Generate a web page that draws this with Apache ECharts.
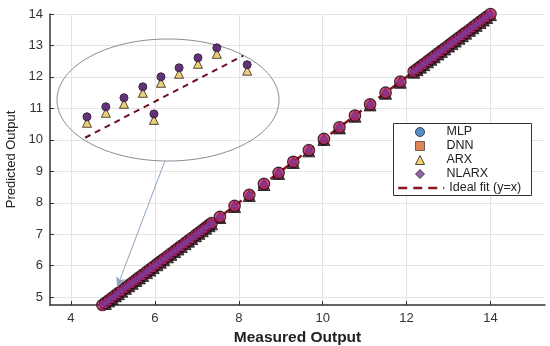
<!DOCTYPE html>
<html>
<head>
<meta charset="utf-8">
<script src="https://cdn.jsdelivr.net/npm/echarts@6/dist/echarts.min.js"></script>
<style>
html,body{margin:0;padding:0;background:#fff;}
#c{width:550px;height:346px;}
</style>
</head>
<body>
<div id="c"></div>
<script>
// ---- data ----
const measured = [
  4.75, 4.82, 4.90, 4.98, 5.06, 5.13, 5.21, 5.30, 5.38, 5.46, 5.55, 5.63, 5.71, 5.80, 5.88, 5.96, 6.05,
  6.13, 6.21, 6.30, 6.38, 6.47, 6.55, 6.63, 6.72, 6.80, 6.88, 6.97, 7.05, 7.13, 7.21, 7.29, 7.35,
  7.55, 7.90, 8.25, 8.60, 8.95, 9.30, 9.67, 10.03, 10.40, 10.77, 11.13, 11.50, 11.85,
  12.17, 12.25, 12.33, 12.41, 12.50, 12.58, 12.66, 12.75, 12.83, 12.91, 13.00, 13.08, 13.16,
  13.25, 13.33, 13.41, 13.50, 13.58, 13.66, 13.75, 13.83, 13.91, 14.00
];
const mlpPred = [
  4.75, 4.82, 4.90, 4.98, 5.06, 5.13, 5.21, 5.30, 5.38, 5.46, 5.55, 5.63, 5.71, 5.80, 5.88, 5.96, 6.05,
  6.13, 6.21, 6.30, 6.38, 6.47, 6.55, 6.63, 6.72, 6.80, 6.88, 6.97, 7.05, 7.13, 7.21, 7.29, 7.35,
  7.55, 7.90, 8.25, 8.60, 8.95, 9.30, 9.67, 10.03, 10.40, 10.77, 11.13, 11.50, 11.85,
  12.17, 12.25, 12.33, 12.41, 12.50, 12.58, 12.66, 12.75, 12.83, 12.91, 13.00, 13.08, 13.16,
  13.25, 13.33, 13.41, 13.50, 13.58, 13.66, 13.75, 13.83, 13.91, 14.00
];
const dnnPred = [
  4.75, 4.82, 4.90, 4.98, 5.06, 5.13, 5.21, 5.30, 5.38, 5.46, 5.55, 5.63, 5.71, 5.80, 5.88, 5.96, 6.05,
  6.13, 6.21, 6.30, 6.38, 6.47, 6.55, 6.63, 6.72, 6.80, 6.88, 6.97, 7.05, 7.13, 7.21, 7.29, 7.35,
  7.55, 7.90, 8.25, 8.60, 8.95, 9.30, 9.67, 10.03, 10.40, 10.77, 11.13, 11.50, 11.85,
  12.17, 12.25, 12.33, 12.41, 12.50, 12.58, 12.66, 12.75, 12.83, 12.91, 13.00, 13.08, 13.16,
  13.25, 13.33, 13.41, 13.50, 13.58, 13.66, 13.75, 13.83, 13.91, 14.00
];
const arxPred = [
  4.73, 4.80, 4.88, 4.96, 5.04, 5.11, 5.19, 5.28, 5.36, 5.44, 5.53, 5.61, 5.69, 5.78, 5.86, 5.94, 6.03,
  6.11, 6.19, 6.28, 6.36, 6.45, 6.53, 6.61, 6.70, 6.78, 6.86, 6.95, 7.03, 7.11, 7.19, 7.27, 7.33,
  7.53, 7.88, 8.23, 8.58, 8.93, 9.28, 9.65, 10.01, 10.38, 10.75, 11.11, 11.48, 11.83,
  12.15, 12.23, 12.31, 12.39, 12.48, 12.56, 12.64, 12.73, 12.81, 12.89, 12.98, 13.06, 13.14,
  13.23, 13.31, 13.39, 13.48, 13.56, 13.64, 13.73, 13.81, 13.89, 13.98
];
const nlarxPred = [
  4.75, 4.82, 4.90, 4.98, 5.06, 5.13, 5.21, 5.30, 5.38, 5.46, 5.55, 5.63, 5.71, 5.80, 5.88, 5.96, 6.05,
  6.13, 6.21, 6.30, 6.38, 6.47, 6.55, 6.63, 6.72, 6.80, 6.88, 6.97, 7.05, 7.13, 7.21, 7.29, 7.35,
  7.55, 7.90, 8.25, 8.60, 8.95, 9.30, 9.67, 10.03, 10.40, 10.77, 11.13, 11.50, 11.85,
  12.17, 12.25, 12.33, 12.41, 12.50, 12.58, 12.66, 12.75, 12.83, 12.91, 13.00, 13.08, 13.16,
  13.25, 13.33, 13.41, 13.50, 13.58, 13.66, 13.75, 13.83, 13.91, 14.00
];
const idealFit = [4.75, 14.0];

// zoomed inset (around measured ≈ 5)
const insetMeasured = [4.981, 5.032, 5.081, 5.132, 5.162, 5.181, 5.230, 5.281, 5.332, 5.414];
const insetNlarx    = [5.085, 5.137, 5.184, 5.241, 5.100, 5.293, 5.340, 5.392, 5.444, 5.356];
const insetArx      = [5.054, 5.106, 5.153, 5.210, 5.069, 5.262, 5.309, 5.361, 5.413, 5.325];
const insetIdeal    = [4.976, 5.403];

const markerNames = ['MLP', 'DNN', 'ARX', 'NLARX'];
const lineName = 'Ideal fit (y=x)';
const xTicks = [4, 6, 8, 10, 12, 14];
const yTicks = [5, 6, 7, 8, 9, 10, 11, 12, 13, 14];

// ---- chart ----
const FONT = '"Liberation Sans", Arial, sans-serif';
const pairs = (xs, ys) => xs.map((x, i) => [x, ys[i]]);
const legendText = {fontFamily: FONT, fontSize: 12.5, color: '#222', lineHeight: 14};

const chart = echarts.init(document.getElementById('c'), null, {renderer: 'canvas'});
const option = {
  animation: false,
  backgroundColor: '#ffffff',
  grid: [
    {left: 50, right: 5, top: 14, bottom: 41, containLabel: false, outerBoundsMode: 'none'},
    {left: 57, top: 39, width: 222, height: 122, containLabel: false, outerBoundsMode: 'none'}
  ],
  xAxis: [
    {
      type: 'value', gridIndex: 0, min: 3.5, max: 15.3, splitNumber: 5,
      name: 'Measured Output', nameLocation: 'middle', nameGap: 23,
      nameTextStyle: {fontFamily: FONT, fontSize: 15.5, fontWeight: 'bold', color: '#222'},
      axisLine: {show: true, onZero: false, lineStyle: {color: '#333', width: 1.5}},
      axisTick: {show: true, inside: true, length: 4, lineStyle: {color: '#333'}},
      axisLabel: {
        fontFamily: FONT, fontSize: 13, color: '#333', margin: 7,
        showMinLabel: false, showMaxLabel: false,
        formatter: v => xTicks.indexOf(v) >= 0 ? String(v) : ''
      },
      splitLine: {show: true, showMinLine: false, showMaxLine: false, lineStyle: {color: '#e3e3e3', width: 1}}
    },
    {type: 'value', gridIndex: 1, min: 4.9, max: 5.5, show: false}
  ],
  yAxis: [
    {
      type: 'value', gridIndex: 0, min: 4.75, max: 14, splitNumber: 10,
      name: 'Predicted Output', nameLocation: 'middle', nameGap: 32,
      nameTextStyle: {fontFamily: FONT, fontSize: 13, color: '#222'},
      axisLine: {show: true, onZero: false, lineStyle: {color: '#333', width: 1.5}},
      axisTick: {show: true, inside: true, length: 4, lineStyle: {color: '#333'}},
      axisLabel: {
        fontFamily: FONT, fontSize: 13, color: '#333', margin: 7,
        showMinLabel: false,
        formatter: v => yTicks.indexOf(v) >= 0 ? String(v) : ''
      },
      splitLine: {show: true, showMinLine: false, lineStyle: {color: '#e3e3e3', width: 1}}
    },
    {type: 'value', gridIndex: 1, min: 4.855, max: 5.49, show: false}
  ],
  legend: [
    {
      orient: 'vertical', left: 415, top: 125, padding: 0, z: 10,
      itemWidth: 9, itemHeight: 9, itemGap: 0,
      textStyle: Object.assign({padding: [0, 0, 0, 17]}, legendText),
      data: [
        {name: markerNames[0], icon: 'circle', itemStyle: {color: '#2f72c0', borderColor: '#222', borderWidth: 1}},
        {name: markerNames[1], icon: 'rect', itemStyle: {color: '#d9652b', borderColor: '#222', borderWidth: 0.8}},
        {name: markerNames[2], icon: 'triangle', itemStyle: {color: '#f2c84b', borderColor: '#222', borderWidth: 1}},
        {name: markerNames[3], icon: 'diamond', itemStyle: {color: '#7a3b98', borderColor: '#222', borderWidth: 1}}
      ]
    },
    {
      orient: 'vertical', left: 397, top: 181, padding: 0, z: 10,
      itemWidth: 46, itemHeight: 10,
      textStyle: Object.assign({padding: [0, 0, 0, 0]}, legendText),
      data: [
        {name: lineName, itemStyle: {color: 'rgba(0,0,0,0)', borderWidth: 0},
         lineStyle: {color: '#8b1620', width: 2.5, type: [9, 6]}}
      ]
    }
  ],
  graphic: [
    {
      type: 'ellipse', silent: true, z: 1,
      shape: {cx: 168, cy: 100, rx: 111, ry: 61},
      style: {fill: 'none', stroke: '#8c8c8c', lineWidth: 1}
    },
    {
      type: 'rect', silent: true, z: 8,
      shape: {x: 393.5, y: 123.5, width: 138, height: 72},
      style: {fill: '#ffffff', stroke: '#333', lineWidth: 1}
    }
  ],
  series: [
    {
      name: lineName, type: 'line', xAxisIndex: 0, yAxisIndex: 0,
      data: pairs(idealFit, idealFit), symbol: 'none', z: 2,
      itemStyle: {color: '#8b1620'},
      lineStyle: {color: '#8b1620', width: 2.5, type: [9, 6]},
      markLine: {
        silent: true, symbol: ['none', 'arrow'], symbolSize: [7, 10],
        label: {show: false},
        lineStyle: {color: '#8ea6c2', width: 1, type: 'solid'},
        data: [[{coord: [6.24, 9.33]}, {coord: [5.10, 5.32]}]]
      }
    },
    {
      name: 'ARX', type: 'scatter', xAxisIndex: 0, yAxisIndex: 0,
      data: pairs(measured, arxPred), symbol: 'triangle', symbolSize: 12, z: 3,
      itemStyle: {color: '#3a1a2a', borderColor: '#111', borderWidth: 1}
    },
    {
      name: 'MLP', type: 'scatter', xAxisIndex: 0, yAxisIndex: 0,
      data: pairs(measured, mlpPred), symbol: 'circle', symbolSize: 11.5, z: 4,
      itemStyle: {color: '#c8245c', borderColor: '#1a0a10', borderWidth: 1.2}
    },
    {
      name: 'DNN', type: 'scatter', xAxisIndex: 0, yAxisIndex: 0,
      data: pairs(measured, dnnPred), symbol: 'rect', symbolSize: 5, z: 5,
      itemStyle: {color: '#d42a4e'}
    },
    {
      name: 'NLARX', type: 'scatter', xAxisIndex: 0, yAxisIndex: 0,
      data: pairs(measured, nlarxPred), symbol: 'diamond', symbolSize: 8, z: 6,
      itemStyle: {color: '#7d3a98', borderColor: '#5a2070', borderWidth: 0.5}
    },
    // inset
    {
      name: lineName, type: 'line', xAxisIndex: 1, yAxisIndex: 1,
      data: pairs(insetIdeal, insetIdeal), symbol: 'none', z: 2,
      lineStyle: {color: '#6e1020', width: 2, type: [6, 5]}
    },
    {
      name: 'ARX', type: 'scatter', xAxisIndex: 1, yAxisIndex: 1,
      data: pairs(insetMeasured, insetArx), symbol: 'triangle', symbolSize: 9, z: 3,
      itemStyle: {color: '#e9c35a', borderColor: '#2a2010', borderWidth: 1}
    },
    {
      name: 'NLARX', type: 'scatter', xAxisIndex: 1, yAxisIndex: 1,
      data: pairs(insetMeasured, insetNlarx), symbol: 'circle', symbolSize: 8, z: 4,
      itemStyle: {color: '#4d2460', borderColor: '#1a0a20', borderWidth: 1}
    },
    {
      name: 'NLARX', type: 'scatter', xAxisIndex: 1, yAxisIndex: 1,
      data: pairs(insetMeasured, insetNlarx), symbol: 'diamond', symbolSize: 9, z: 5,
      itemStyle: {color: '#5e2d78'}
    }
  ]
};
chart.setOption(option);
</script>
</body>
</html>
